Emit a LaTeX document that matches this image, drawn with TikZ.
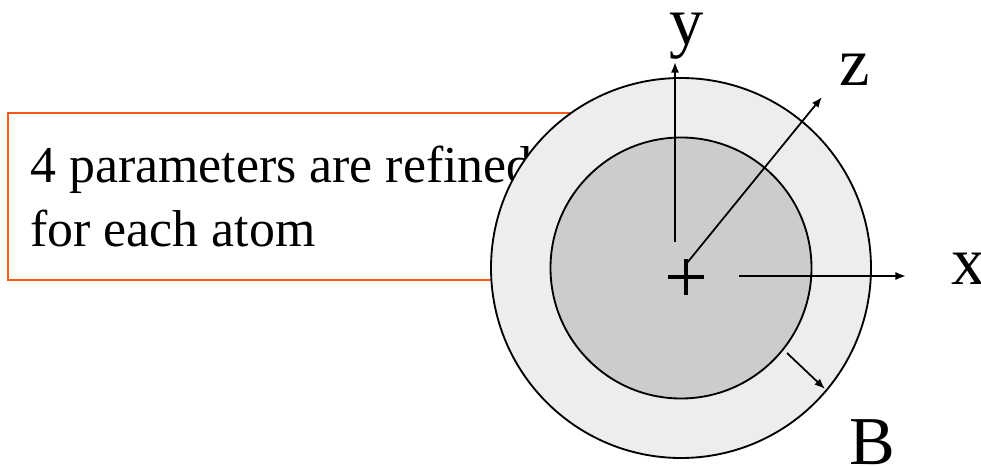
\documentclass[tikz,border=0pt]{standalone}
\usepackage{fontspec}
\setmainfont{Liberation Serif}
\usetikzlibrary{arrows.meta}
\usepackage{xcolor}
\definecolor{boxorange}{RGB}{250, 88, 22}
\definecolor{ringgray}{RGB}{237, 237, 237}
\definecolor{coregray}{RGB}{204, 204, 204}

\begin{document}
\begin{tikzpicture}[x=1cm, y=1cm,
                    >={Latex[length=6pt,width=4.6pt]},
                    axis/.style={->, line width=1pt},
                    axlabel/.style={font=\fontsize{39}{45}\selectfont, inner sep=0pt}]

    \useasboundingbox (0,0) rectangle (19.62,9.32);

    % ==========================================================
    % recuadro con el texto
    % ==========================================================
    \draw[boxorange, line width=1.1pt] (0.16,7.06) rectangle (12.8,3.72);
    \node[anchor=north west, align=left, inner sep=0pt,
          font=\fontsize{29.5}{36.4}\selectfont] (txt) at (0.60,6.41)
        {4 parameters are refined\\for each atom};

    % ==========================================================
    % atomo: esfera externa (B) y nucleo
    % ==========================================================
    \coordinate (o) at (13.62,3.96);
    \filldraw[fill=ringgray, line width=1.05pt] (o) circle (3.80);
    \filldraw[fill=coregray, line width=1.05pt] (o) circle (2.61);

    % cruz en la posicion del atomo
    \coordinate (pc) at (13.72,3.78);
    \draw[line width=2.8pt] ([xshift=-0.36cm]pc) -- ([xshift=0.36cm]pc);
    \draw[line width=2.8pt] ([yshift=-0.36cm]pc) -- ([yshift=0.36cm]pc);

    % ==========================================================
    % ejes x, y, z
    % ==========================================================
    \coordinate (y0) at (13.50,4.48);  \coordinate (y1) at (13.50,8.08);
    \coordinate (z0) at (13.74,4.06);  \coordinate (z1) at (16.44,7.38);
    \coordinate (x0) at (14.78,3.80);  \coordinate (x1) at (18.12,3.80);
    \draw[axis] (y0) -- (y1);
    \draw[axis] (z0) -- (z1);
    \draw[axis] (x0) -- (x1);

    \node[axlabel] (ylab) at (13.74,8.60) {y};
    \node[axlabel] (zlab) at (17.10,7.92) {z};
    \node[axlabel] (xlab) at (19.38,3.94) {x};

    % parametro de desplazamiento B
    \coordinate (b0) at (15.74,2.26);  \coordinate (b1) at (16.50,1.54);
    \draw[axis] (b0) -- (b1);
    \node[axlabel] (blab) at (17.44,0.48) {B};

\end{tikzpicture}
\end{document}
